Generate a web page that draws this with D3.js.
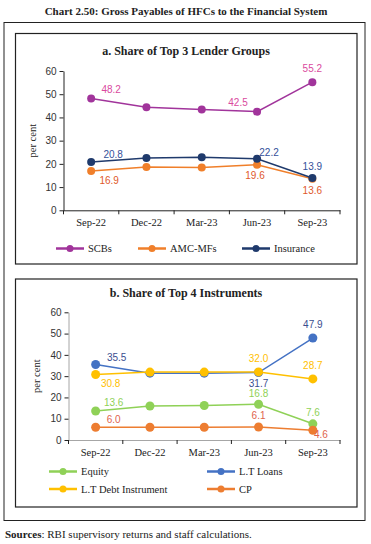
<!DOCTYPE html>
<html>
<head>
<meta charset="utf-8">
<script src="https://cdn.jsdelivr.net/npm/d3@7"></script>
<style>
  body { margin: 0; background: #fff; }
  svg text { font-family: "Liberation Serif", "DejaVu Serif", serif; }
  .num { font-family: "Liberation Sans", "DejaVu Sans", sans-serif; }
</style>
</head>
<body>
<script>
// categories
const quarters = ['Sep-22', 'Dec-22', 'Mar-23', 'Jun-23', 'Sep-23'];
const yTicks = [0, 10, 20, 30, 40, 50, 60];

// panel a: top 3 lender groups (per cent)
const scbs = [48.2, 44.4, 43.4, 42.5, 55.2];
const amcMfs = [16.9, 18.7, 18.4, 19.6, 13.6];
const insurance = [20.8, 22.5, 22.9, 22.2, 13.9];

// panel b: top 4 instruments (per cent)
const equity = [13.6, 16.0, 16.2, 16.8, 7.6];
const ltLoans = [35.5, 31.4, 31.4, 31.7, 47.9];
const ltDebt = [30.8, 31.9, 31.9, 32.0, 28.7];
const cp = [6.0, 6.0, 6.0, 6.1, 4.6];

const W = 371, H = 544;
const svg = d3.select('body').append('svg')
  .attr('width', W)
  .attr('height', H);

// title and frames
svg.append('text')
  .attr('x', 186).attr('y', 15)
  .attr('text-anchor', 'middle')
  .attr('font-size', 11).attr('font-weight', 'bold')
  .attr('fill', '#222')
  .text('Chart 2.50: Gross Payables of HFCs to the Financial System');

svg.append('rect')
  .attr('x', 4).attr('y', 22.5).attr('width', 361).attr('height', 498)
  .attr('fill', 'none').attr('stroke', '#222').attr('stroke-width', 1);

svg.append('text')
  .attr('x', 5).attr('y', 538)
  .attr('font-size', 11).attr('fill', '#222')
  .call(t => {
    t.append('tspan').attr('font-weight', 'bold').text('Sources');
    t.append('tspan').text(': RBI supervisory returns and staff calculations.');
  });

// draws one panel
function drawPanel(cfg) {
  const g = svg.append('g');

  g.append('rect')
    .attr('x', 15.5).attr('y', cfg.boxTop)
    .attr('width', 341.5).attr('height', cfg.boxBottom - cfg.boxTop)
    .attr('fill', 'none').attr('stroke', '#222').attr('stroke-width', 1.2);

  g.append('text')
    .attr('x', 186).attr('y', cfg.titleY)
    .attr('text-anchor', 'middle')
    .attr('font-size', 12).attr('font-weight', 'bold').attr('fill', '#222')
    .text(cfg.title);

  const x = d3.scaleBand().domain(quarters).range([cfg.left, 340]);
  const y = d3.scaleLinear().domain([0, 60]).range([cfg.y0, cfg.y60]);

  // y axis
  const yAxis = g.append('g')
    .attr('transform', `translate(${cfg.left},0)`)
    .call(d3.axisLeft(y).tickValues(yTicks).tickSize(4).tickSizeOuter(0));
  yAxis.select('.domain').attr('stroke', cfg.axisColor);
  yAxis.selectAll('.tick line').attr('stroke', '#222');
  yAxis.selectAll('.tick text')
    .attr('class', 'num').attr('font-size', 10).attr('fill', '#333').attr('x', -7);

  // x axis with ticks at band edges
  const xAxis = g.append('g')
    .attr('transform', `translate(0,${cfg.y0})`)
    .call(d3.axisBottom(x).tickSize(0).tickSizeOuter(0));
  xAxis.select('.domain').attr('stroke', cfg.axisColor);
  xAxis.selectAll('.tick text')
    .attr('font-size', 10.5).attr('fill', '#222').attr('dy', '1.25em');
  xAxis.selectAll('.edge')
    .data(quarters.map(q => x(q)).concat([x.range()[1]]))
    .enter().append('line')
    .attr('x1', d => d).attr('x2', d => d)
    .attr('y1', 0).attr('y2', 4)
    .attr('stroke', '#222');

  g.append('text')
    .attr('transform', `translate(${cfg.labelX},${(cfg.y0 + cfg.y60) / 2}) rotate(-90)`)
    .attr('text-anchor', 'middle')
    .attr('font-size', 10.5).attr('fill', '#222')
    .text('per cent');

  const line = d3.line()
    .x((d, i) => x(quarters[i]) + x.bandwidth() / 2)
    .y(d => y(d));

  cfg.series.forEach(s => {
    g.append('path')
      .datum(s.values)
      .attr('d', line)
      .attr('fill', 'none')
      .attr('stroke', s.color)
      .attr('stroke-width', 1.5);
    g.selectAll(null)
      .data(s.values)
      .enter().append('circle')
      .attr('cx', (d, i) => x(quarters[i]) + x.bandwidth() / 2)
      .attr('cy', d => y(d))
      .attr('r', cfg.r)
      .attr('fill', s.color);
  });

  // data labels
  cfg.series.forEach(s => {
    s.labels.forEach(([i, dx, dy]) => {
      g.append('text')
        .attr('class', 'num')
        .attr('x', x(quarters[i]) + x.bandwidth() / 2 + dx)
        .attr('y', y(s.values[i]) + dy)
        .attr('text-anchor', 'middle')
        .attr('font-size', 10)
        .attr('fill', s.labelColor)
        .text(s.values[i].toFixed(1));
    });
  });

  // legend
  cfg.legend.forEach(item => {
    const s = cfg.series[item.idx];
    g.append('line')
      .attr('x1', item.x).attr('x2', item.x + 28)
      .attr('y1', item.y).attr('y2', item.y)
      .attr('stroke', s.color).attr('stroke-width', 2.5);
    g.append('circle')
      .attr('cx', item.x + 14).attr('cy', item.y).attr('r', 3.5)
      .attr('fill', s.color);
    g.append('text')
      .attr('x', item.x + 32).attr('y', item.y + 3.5)
      .attr('font-size', 10.5).attr('fill', '#222')
      .text(s.name);
  });
}

drawPanel({
  title: 'a. Share of Top 3 Lender Groups',
  boxTop: 33.5, boxBottom: 264, titleY: 55,
  left: 63.5, y0: 210.3, y60: 71, labelX: 36,
  axisColor: '#222', r: 4,
  series: [
    { name: 'SCBs', values: scbs, color: '#A1349B', labelColor: '#DA4A9E',
      labels: [[0, 20, -5], [3, -19, -6], [4, 0, -10]] },
    { name: 'AMC-MFs', values: amcMfs, color: '#F07F2A', labelColor: '#E0582B',
      labels: [[0, 18, 13], [3, -2, 14], [4, 0, 15]] },
    { name: 'Insurance', values: insurance, color: '#1F3A6C', labelColor: '#34509A',
      labels: [[0, 22, -4], [3, 12, -3], [4, 0, -8]] }
  ],
  legend: [
    { idx: 0, x: 56, y: 248.5 },
    { idx: 1, x: 138, y: 248.5 },
    { idx: 2, x: 242, y: 248.5 }
  ]
});

drawPanel({
  title: 'b. Share of Top 4 Instruments',
  boxTop: 279, boxBottom: 507, titleY: 297,
  left: 68.5, y0: 440, y60: 312.3, labelX: 40,
  axisColor: '#A6A6A6', r: 4.5,
  series: [
    { name: 'Equity', values: equity, color: '#8FD157', labelColor: '#8FD157',
      labels: [[0, 18, -5], [3, 0, -7], [4, 0, -8]] },
    { name: 'L.T Loans', values: ltLoans, color: '#4472C4', labelColor: '#3A4E8F',
      labels: [[0, 21, -3], [3, 0, 14], [4, 0, -10]] },
    { name: 'L.T Debt Instrument', values: ltDebt, color: '#FFC000', labelColor: '#FFC000',
      labels: [[0, 15, 13], [3, 0, -10], [4, 0, -10]] },
    { name: 'CP', values: cp, color: '#ED7D31', labelColor: '#E0644C',
      labels: [[0, 18, -4], [3, 0, -8], [4, 8, 8]] }
  ],
  legend: [
    { idx: 0, x: 49, y: 471.5 },
    { idx: 1, x: 207, y: 471.5 },
    { idx: 2, x: 49, y: 489 },
    { idx: 3, x: 207, y: 489 }
  ]
});
</script>
</body>
</html>
